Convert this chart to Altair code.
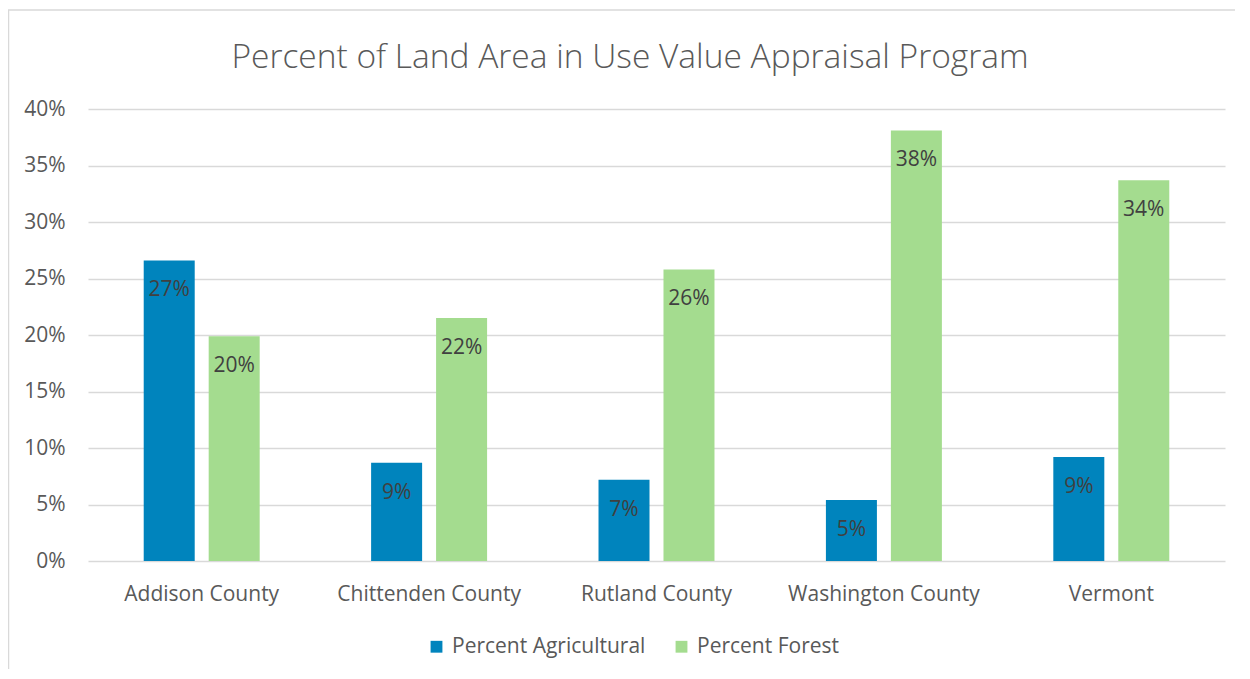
import altair as alt
import pandas as pd

counties = ["Addison County", "Chittenden County", "Rutland County", "Washington County", "Vermont"]
agricultural = [0.266, 0.087, 0.072, 0.054, 0.092]
forest = [0.199, 0.215, 0.258, 0.381, 0.337]
series = ["Percent Agricultural", "Percent Forest"]
colors = ["#0084BD", "#A4DC8F"]
title_text = "Percent of Land Area in Use Value Appraisal Program"

rows = []
for c, a, f in zip(counties, agricultural, forest):
    rows.append({"county": c, "series": series[0], "value": a})
    rows.append({"county": c, "series": series[1], "value": f})
df = pd.DataFrame(rows)

FONT = "Open Sans"
W, H = 1137, 452

x = alt.X("county:N", sort=counties, title=None,
          scale=alt.Scale(paddingInner=0.49, paddingOuter=0.245),
          axis=alt.Axis(labelAngle=0, ticks=False, domain=False, labelPadding=22,
                        labelFontSize=21, labelColor="#595959", labelFont=FONT, labelLimit=0))
xo = alt.XOffset("series:N", sort=series,
                 scale=alt.Scale(paddingInner=0.215, paddingOuter=0))
y = alt.Y("value:Q", title=None,
          scale=alt.Scale(domain=[0, 0.4]),
          axis=alt.Axis(format=".0%", values=[0, .05, .1, .15, .2, .25, .3, .35, .4],
                        ticks=False, domain=False, labelPadding=23, labelFontSize=21,
                        labelColor="#595959", labelFont=FONT,
                        gridColor="#d9d9d9", gridWidth=1.3))

base = alt.Chart(df)

bars = base.mark_bar().encode(
    x=x, xOffset=xo, y=y,
    color=alt.Color("series:N", sort=series,
                    scale=alt.Scale(domain=series, range=colors),
                    legend=alt.Legend(title=None, orient="none", direction="horizontal",
                                      legendX=338, legendY=527, symbolType="square",
                                      symbolSize=140, symbolStrokeWidth=0,
                                      labelFontSize=21, labelColor="#595959", labelLimit=0,
                                      labelFont=FONT, columnPadding=25, labelOffset=5)),
)

labels = base.mark_text(baseline="middle", dy=30, fontSize=21, color="#404040", font=FONT).encode(
    x=x, xOffset=xo, y=y,
    text=alt.Text("value:Q", format=".0%"),
)

frame = alt.Chart(pd.DataFrame({"k": [0]})).mark_rect(
    fill=None, stroke="#d9d9d9", strokeWidth=1.5
).encode(x=alt.value(-79.5), x2=alt.value(1175), y=alt.value(-99), y2=alt.value(600))

title = alt.Chart(pd.DataFrame({"t": [title_text]})).mark_text(
    fontSize=33.5, font=FONT, fontWeight=300, color="#595959", align="center", baseline="alphabetic"
).encode(x=alt.value(542), y=alt.value(-41), text="t:N")

chart = alt.layer(frame, title, bars, labels).properties(
    width=W, height=H,
    autosize=alt.AutoSizeParams(type="none"),
    padding={"left": 80, "top": 101, "right": 10, "bottom": 108},
).configure_view(stroke=None)

chart.save("out.html", embed_options={"renderer": "svg", "actions": False})
